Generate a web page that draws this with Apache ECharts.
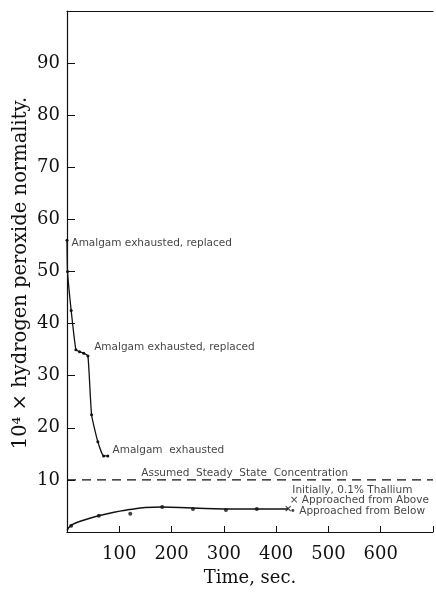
<!DOCTYPE html>
<html><head><meta charset="utf-8">
<script src="https://cdn.jsdelivr.net/npm/echarts@6/dist/echarts.min.js"></script>
<style>html,body{margin:0;padding:0;background:#fff}#c{width:436px;height:592px}</style>
</head><body><div id="c"></div>
<script>
// ---- data ----
const xTickLabels = [100, 200, 300, 400, 500, 600];
const yTickLabels = [10, 20, 30, 40, 50, 60, 70, 80, 90];
const upperTime  = [0, 1, 8, 17, 24, 32, 40, 47, 59, 70, 78];
const upperValue = [56, 50, 42.5, 35, 34.6, 34.3, 33.8, 22.5, 17.3, 14.6, 14.6];
const lowerCurveTime  = [0, 10, 30, 60, 90, 120, 150, 180, 240, 300, 360, 423];
const lowerCurveValue = [0.3, 1.4, 2.2, 3.1, 3.8, 4.3, 4.7, 4.8, 4.6, 4.4, 4.4, 4.4];
const belowTime  = [8, 61, 121, 182, 241, 304, 363];
const belowValue = [1.2, 3.1, 3.5, 4.8, 4.4, 4.2, 4.4];
const aboveTime  = [423];
const aboveValue = [4.5];
const steadyLevel = 10;
const annTexts = ['Amalgam exhausted, replaced', 'Amalgam exhausted, replaced', 'Amalgam  exhausted',
  'Assumed  Steady  State  Concentration', 'Initially, 0.1% Thallium', '× Approached from Above', '• Approached from Below'];
const annTime  = [8.5, 52, 87, 142, 431, 426, 426];
const annValue = [55.4, 35.4, 15.7, 11.2, 8.0, 6.0, 3.9];

const zip = (a, b) => a.map((v, i) => [v, b[i]]);
const serif = 'DejaVu Serif';
const sans = 'DejaVu Sans';
const xMark = 'path://M0,0L10,10M10,0L0,10';

const chart = echarts.init(document.getElementById('c'), null, {renderer: 'canvas'});
chart.setOption({
  animation: false,
  grid: {left: 67, right: 2, top: 11, bottom: 57},
  xAxis: [{
    type: 'value', min: 0, max: 700, interval: 100,
    axisLine: {lineStyle: {color: '#111', width: 1.2}},
    axisTick: {inside: true, length: 6, lineStyle: {color: '#111'}},
    splitLine: {show: false},
    axisLabel: {margin: 13, fontFamily: serif, fontSize: 18, color: '#111',
      formatter: v => xTickLabels.includes(v) ? String(v) : ''},
    name: 'Time, sec.', nameLocation: 'middle', nameGap: 37,
    nameTextStyle: {fontFamily: serif, fontSize: 18, color: '#111'}
  }, {
    type: 'value', position: 'top', min: 0, max: 700,
    axisLine: {lineStyle: {color: '#111', width: 1.2}},
    axisTick: {show: false}, axisLabel: {show: false}, splitLine: {show: false}
  }],
  yAxis: {
    type: 'value', min: 0, max: 100, interval: 10,
    axisLine: {lineStyle: {color: '#111', width: 1.2}},
    axisTick: {inside: true, length: 8, lineStyle: {color: '#111'}},
    splitLine: {show: false},
    axisLabel: {margin: 7, fontFamily: serif, fontSize: 18, color: '#111',
      formatter: v => yTickLabels.includes(v) ? String(v) : ''}
  },
  graphic: [{
    type: 'text', x: 21, y: 273, rotation: Math.PI / 2,
    style: {text: '10\u2074 × hydrogen peroxide normality.', fontFamily: serif, fontSize: 19.5,
      fill: '#111', align: 'center', verticalAlign: 'middle'}
  }],
  series: [{
    type: 'line', data: zip(upperTime, upperValue), smooth: 0.15,
    lineStyle: {color: '#111', width: 1.3}, symbol: 'circle', symbolSize: 3,
    itemStyle: {color: '#111'}, z: 3
  }, {
    type: 'line', data: zip(lowerCurveTime, lowerCurveValue), smooth: 0.5,
    lineStyle: {color: '#111', width: 1.5}, symbol: 'none', z: 3
  }, {
    type: 'scatter', data: zip(belowTime, belowValue), symbol: 'circle', symbolSize: 4,
    itemStyle: {color: '#111'}, z: 4
  }, {
    type: 'scatter', data: zip(aboveTime, aboveValue), symbol: xMark, symbolSize: 5,
    itemStyle: {color: 'none', borderColor: '#111', borderWidth: 1.2}, z: 4
  }, {
    type: 'line', data: [[0, steadyLevel], [700, steadyLevel]], symbol: 'none',
    lineStyle: {color: '#111', width: 1.3, type: [9, 6]}, z: 2
  }, {
    type: 'scatter', symbolSize: 0, z: 5,
    data: annTexts.map((t, i) => ({value: [annTime[i], annValue[i]], name: t})),
    label: {show: true, position: 'right', distance: 0, formatter: p => p.name,
      fontFamily: sans, fontSize: 10.5, color: '#111'}
  }]
});
</script></body></html>
